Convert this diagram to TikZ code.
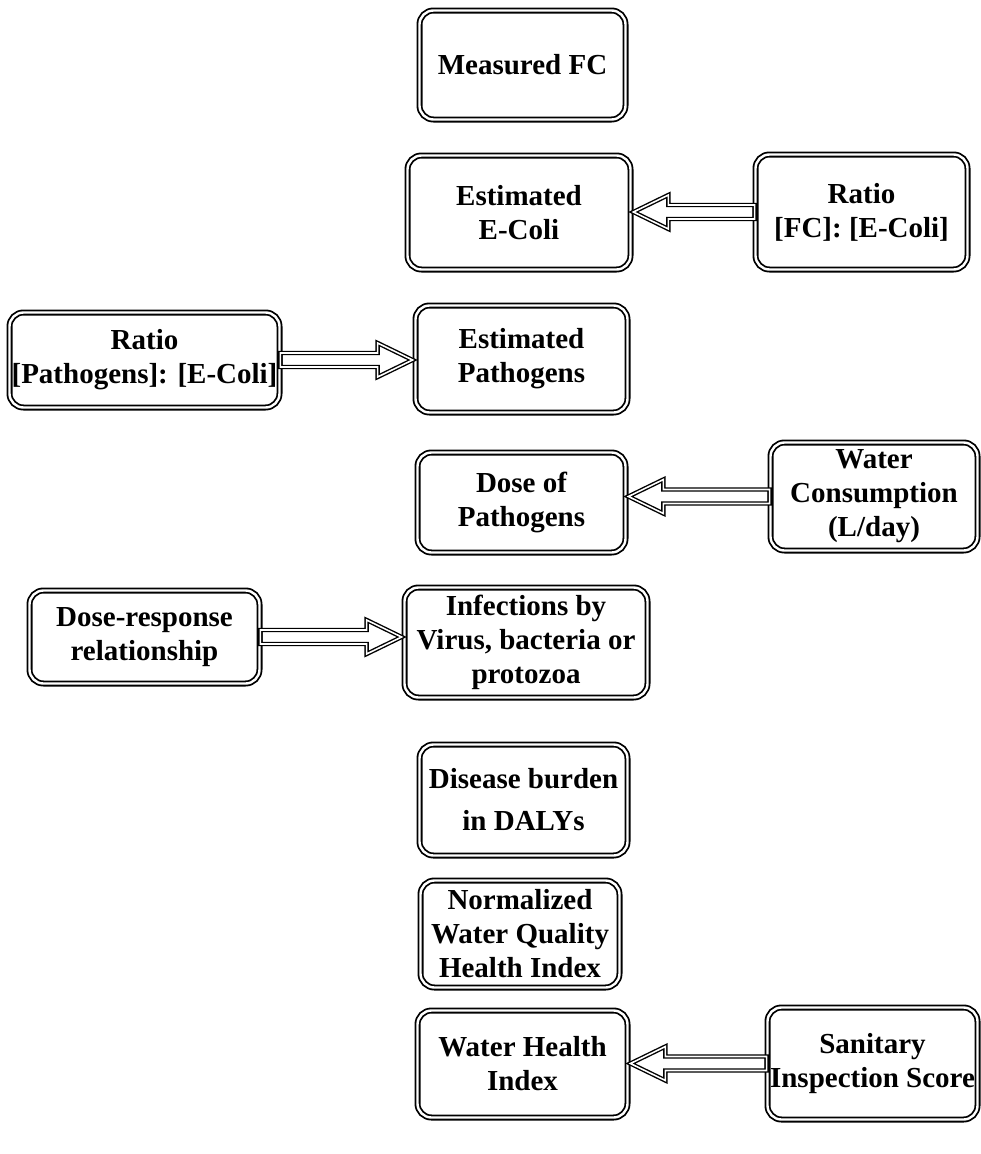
\documentclass[tikz,border=0pt]{standalone}
\usepackage{fontspec}
\setmainfont{Liberation Serif}
\usetikzlibrary{calc}
\tikzset{
  box/.style={draw=black, double=white, line width=1.8pt, double distance=2.4pt,
    rounded corners=14pt, align=center, inner sep=0pt,
    font=\bfseries\fontsize{29}{34}\selectfont},
  barrow/.style={draw=black, double=white, line width=1.4pt, double distance=1.6pt, line join=miter}
}
\newcommand{\larrow}[2]{% from #1 (right) pointing left to #2
  \draw[barrow] let \p1=(#1.west), \p2=(#2.east) in
    (\x1,\y1+7pt) -- (\x2+37pt,\y1+7pt) -- (\x2+37pt,\y1+17pt) -- (\x2+2pt,\y1)
    -- (\x2+37pt,\y1-17pt) -- (\x2+37pt,\y1-7pt) -- (\x1,\y1-7pt) -- cycle;}
\newcommand{\rarrow}[2]{% from #1 (left) pointing right to #2
  \draw[barrow] let \p1=(#1.east), \p2=(#2.west) in
    (\x1,\y1+7pt) -- (\x2-37pt,\y1+7pt) -- (\x2-37pt,\y1+17pt) -- (\x2-2pt,\y1)
    -- (\x2-37pt,\y1-17pt) -- (\x2-37pt,\y1-7pt) -- (\x1,\y1-7pt) -- cycle;}
\begin{document}
\begin{tikzpicture}[x=1pt,y=-1pt]
\useasboundingbox (0,0) rectangle (981,1154);
\node[box, minimum width=206pt, minimum height=109pt] (mfc) at (522.5,65) {Measured FC};
\node[box, minimum width=223pt, minimum height=114pt] (eec) at (519,212.5) {Estimated\\E-Coli};
\node[box, minimum width=212pt, minimum height=115pt] (rfc) at (861.5,212) {Ratio\\{}[FC]: [E-Coli]};
\node[box, minimum width=270pt, minimum height=95pt] (rpe) at (144.5,360) {Ratio\\{}[Pathogens]: [E-Coli]};
\node[box, minimum width=212pt, minimum height=107pt] (ep) at (521.5,359) {Estimated\\Pathogens};
\node[box, minimum width=208pt, minimum height=100pt] (dop) at (521.5,502.5) {Dose of\\Pathogens};
\node[box, minimum width=207pt, minimum height=108pt] (wc) at (874,496.5) {Water\\Consumption\\(L/day)};
\node[box, minimum width=230pt, minimum height=93pt] (dr) at (144.5,637) {Dose-response\\relationship};
\node[box, minimum width=243pt, minimum height=110pt] (inf) at (526,642.5) {Infections by\\Virus, bacteria or\\protozoa};
\node[box, minimum width=208pt, minimum height=111pt] (db) at (523.5,800) {Disease burden\\[8pt]in DALYs};
\node[box, minimum width=199pt, minimum height=107pt] (nwq) at (520,934) {Normalized\\Water Quality\\Health Index};
\node[box, minimum width=210pt, minimum height=107pt] (whi) at (522.5,1064) {Water Health\\Index};
\node[box, minimum width=210pt, minimum height=112pt] (sis) at (872.5,1063.5) {Sanitary\\Inspection Score};
\larrow{rfc}{eec}
\rarrow{rpe}{ep}
\larrow{wc}{dop}
\rarrow{dr}{inf}
\larrow{sis}{whi}
\end{tikzpicture}
\end{document}
